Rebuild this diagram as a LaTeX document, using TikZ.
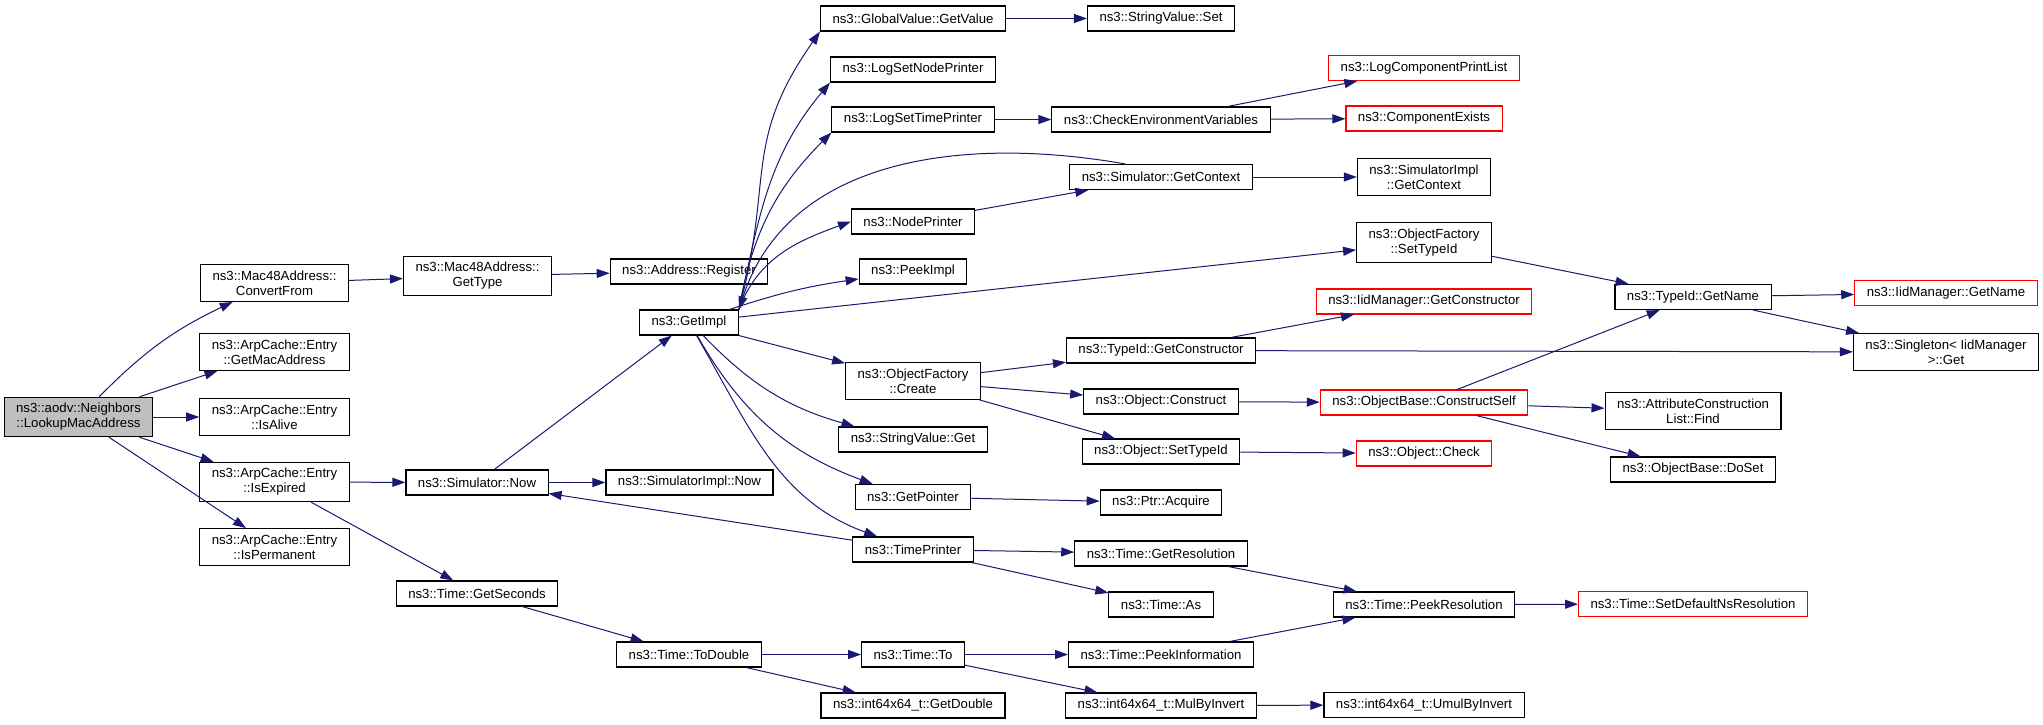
\documentclass[tikz,border=0pt]{standalone}
\usepackage{fontspec}
\setmainfont{Liberation Sans}
\usetikzlibrary{arrows.meta}
\definecolor{edgeblue}{HTML}{191970}
\definecolor{rootgray}{HTML}{BFBFBF}
\newcommand{\fnfont}{\fontsize{6.6}{7.5}\selectfont}
\tikzset{%
	>={Triangle[length=6.5pt, width=4.5pt]},
	every edge/.append style={edgeblue, line width = 0.5pt},
	fn/.style = {name = #1, rectangle, draw, line width = 0.55pt, inner xsep = 6pt, inner ysep = 3pt, minimum height = 12.5pt, align = center, font = \fnfont},
	fnred/.style = {fn = {#1}, draw = red},
	fnroot/.style = {fn = {#1}, fill = rootgray}
}
\begin{document}
\begin{tikzpicture}[x = 0.5pt, y = -0.5pt]
		\useasboundingbox (0,0) rectangle (2043,724);
		\node [fnroot = {lookup}] at (78.5,417) {ns3::aodv::Neighbors\\::LookupMacAddress};
		\node [fn = {convfrom}] at (274.5,283) {ns3::Mac48Address::\\ConvertFrom};
		\node [fn = {getmac}] at (274.5,352) {ns3::ArpCache::Entry\\::GetMacAddress};
		\node [fn = {isalive}] at (274.5,417) {ns3::ArpCache::Entry\\::IsAlive};
		\node [fn = {isexp}] at (274.5,482) {ns3::ArpCache::Entry\\::IsExpired};
		\node [fn = {isperm}] at (274.5,547) {ns3::ArpCache::Entry\\::IsPermanent};
		\node [fn = {gettype}] at (477.5,276) {ns3::Mac48Address::\\GetType};
		\node [fn = {addrreg}] at (689,271.5) {ns3::Address::Register};
		\node [fn = {gimpl}] at (689,322.5) {ns3::GetImpl};
		\node [fn = {simnow}] at (477,482.5) {ns3::Simulator::Now};
		\node [fn = {simimplnow}] at (689.5,482.5) {ns3::SimulatorImpl::Now};
		\node [fn = {getsec}] at (477,593.5) {ns3::Time::GetSeconds};
		\node [fn = {todouble}] at (689,654.5) {ns3::Time::ToDouble};
		\node [fn = {gval}] at (913,18.5) {ns3::GlobalValue::GetValue};
		\node [fn = {svset}] at (1161,18.5) {ns3::StringValue::Set};
		\node [fn = {lsnp}] at (913,69.5) {ns3::LogSetNodePrinter};
		\node [fn = {lstp}] at (913,119.5) {ns3::LogSetTimePrinter};
		\node [fn = {checkenv}] at (1161,119.5) {ns3::CheckEnvironmentVariables};
		\node [fnred = {logcpl}] at (1424,68) {ns3::LogComponentPrintList};
		\node [fnred = {compex}] at (1424,118.5) {ns3::ComponentExists};
		\node [fn = {simctx}] at (1161,177) {ns3::Simulator::GetContext};
		\node [fn = {simimplctx}] at (1424,177) {ns3::SimulatorImpl\\::GetContext};
		\node [fn = {nodepr}] at (913,221.5) {ns3::NodePrinter};
		\node [fn = {peekimpl}] at (913,271.5) {ns3::PeekImpl};
		\node [fn = {ofsettid}] at (1424,242.5) {ns3::ObjectFactory\\::SetTypeId};
		\node [fn = {ofcreate}] at (913,381) {ns3::ObjectFactory\\::Create};
		\node [fn = {tidgetctor}] at (1161,350.5) {ns3::TypeId::GetConstructor};
		\node [fnred = {iidgetctor}] at (1424,301.5) {ns3::IidManager::GetConstructor};
		\node [fn = {objconstruct}] at (1161,401.5) {ns3::Object::Construct};
		\node [fnred = {constructself}] at (1424,402.5) {ns3::ObjectBase::ConstructSelf};
		\node [fn = {objsettid}] at (1161,451.5) {ns3::Object::SetTypeId};
		\node [fnred = {objcheck}] at (1424,453.5) {ns3::Object::Check};
		\node [fn = {svget}] at (913,439.5) {ns3::StringValue::Get};
		\node [fn = {getptr}] at (913,497) {ns3::GetPointer};
		\node [fn = {ptracq}] at (1161,502.5) {ns3::Ptr::Acquire};
		\node [fn = {timepr}] at (913,549.5) {ns3::TimePrinter};
		\node [fn = {getres}] at (1161,553.5) {ns3::Time::GetResolution};
		\node [fn = {timeas}] at (1161,604.5) {ns3::Time::As};
		\node [fn = {timeto}] at (913,654.5) {ns3::Time::To};
		\node [fn = {getdouble}] at (913,705.5) {ns3::int64x64\_t::GetDouble};
		\node [fn = {peekinfo}] at (1161,654.5) {ns3::Time::PeekInformation};
		\node [fn = {mulbyinv}] at (1161,705.5) {ns3::int64x64\_t::MulByInvert};
		\node [fn = {peekres}] at (1424,604.5) {ns3::Time::PeekResolution};
		\node [fn = {umulbyinv}] at (1424,705) {ns3::int64x64\_t::UmulByInvert};
		\node [fnred = {setdefns}] at (1693,604) {ns3::Time::SetDefaultNsResolution};
		\node [fn = {tidgetname}] at (1693,297) {ns3::TypeId::GetName};
		\node [fnred = {iidgetname}] at (1946,293) {ns3::IidManager::GetName};
		\node [fn = {singleton}] at (1946,352) {ns3::Singleton< IidManager\\ >::Get};
		\node [fn = {attrfind}] at (1693,411) {ns3::AttributeConstruction\\List::Find};
		\node [fn = {dosetobj}] at (1693,469.5) {ns3::ObjectBase::DoSet};
		% callers on the left
		\path [->] (lookup) edge [bend left = 10] (convfrom);
		\path [->] (lookup) edge (getmac);
		\path [->] (lookup) edge (isalive);
		\path [->] (lookup) edge (isexp);
		\path [->] (lookup) edge (isperm);
		\path [->] (convfrom) edge (gettype);
		\path [->] (gettype) edge (addrreg);
		\path [->] (isexp) edge (simnow);
		\path [->] (isexp) edge (getsec);
		\path [->] (simnow) edge (gimpl);
		\path [->] (simnow) edge (simimplnow);
		\path [->] (timepr) edge (simnow);
		\path [->] (getsec) edge (todouble);
		\path [->] (todouble) edge (timeto);
		\path [->] (todouble) edge (getdouble);
		% fan out of GetImpl
		\path [->] (gimpl.north east) edge [out = 75, in = 235, looseness = 1.2] (gval.south west);
		\path [->] (gimpl.north east) edge [out = 78, in = 230] (lsnp.south west);
		\path [->] (gimpl.north east) edge [out = 80, in = 225] (lstp.south west);
		\path [->] (simctx.160) edge [out = 170, in = 72] (gimpl.north east);
		\path [->] (gimpl.north east) edge [out = 70, in = 200] (nodepr.west);
		\path [->] (gimpl) edge [bend left = 5] (peekimpl);
		\path [->] (gimpl) edge (ofsettid);
		\path [->] (gimpl) edge (ofcreate);
		\path [->] (gimpl) edge [bend right = 15] (svget);
		\path [->] (gimpl) edge [bend right = 20] (getptr);
		\path [->] (gimpl) edge [out = -60, in = 160] (timepr);
		\path [->] (gval) edge (svset);
		\path [->] (lstp) edge (checkenv);
		\path [->] (checkenv) edge (logcpl);
		\path [->] (checkenv) edge (compex);
		\path [->] (nodepr) edge (simctx);
		\path [->] (simctx) edge (simimplctx);
		\path [->] (ofsettid) edge (tidgetname);
		\path [->] (ofcreate) edge (tidgetctor);
		\path [->] (ofcreate) edge (objconstruct);
		\path [->] (ofcreate) edge (objsettid);
		\path [->] (tidgetctor) edge (iidgetctor);
		\path [->] (tidgetctor) edge (singleton);
		\path [->] (objconstruct) edge (constructself);
		\path [->] (constructself) edge (tidgetname);
		\path [->] (constructself) edge (attrfind);
		\path [->] (constructself) edge (dosetobj);
		\path [->] (objsettid) edge (objcheck);
		\path [->] (getptr) edge (ptracq);
		\path [->] (timepr) edge (getres);
		\path [->] (timepr) edge (timeas);
		\path [->] (getres) edge (peekres);
		\path [->] (timeto) edge (peekinfo);
		\path [->] (timeto) edge (mulbyinv);
		\path [->] (peekinfo) edge (peekres);
		\path [->] (mulbyinv) edge (umulbyinv);
		\path [->] (peekres) edge (setdefns);
		\path [->] (tidgetname) edge (iidgetname);
		\path [->] (tidgetname) edge (singleton);
		\end{tikzpicture}
\end{document}
